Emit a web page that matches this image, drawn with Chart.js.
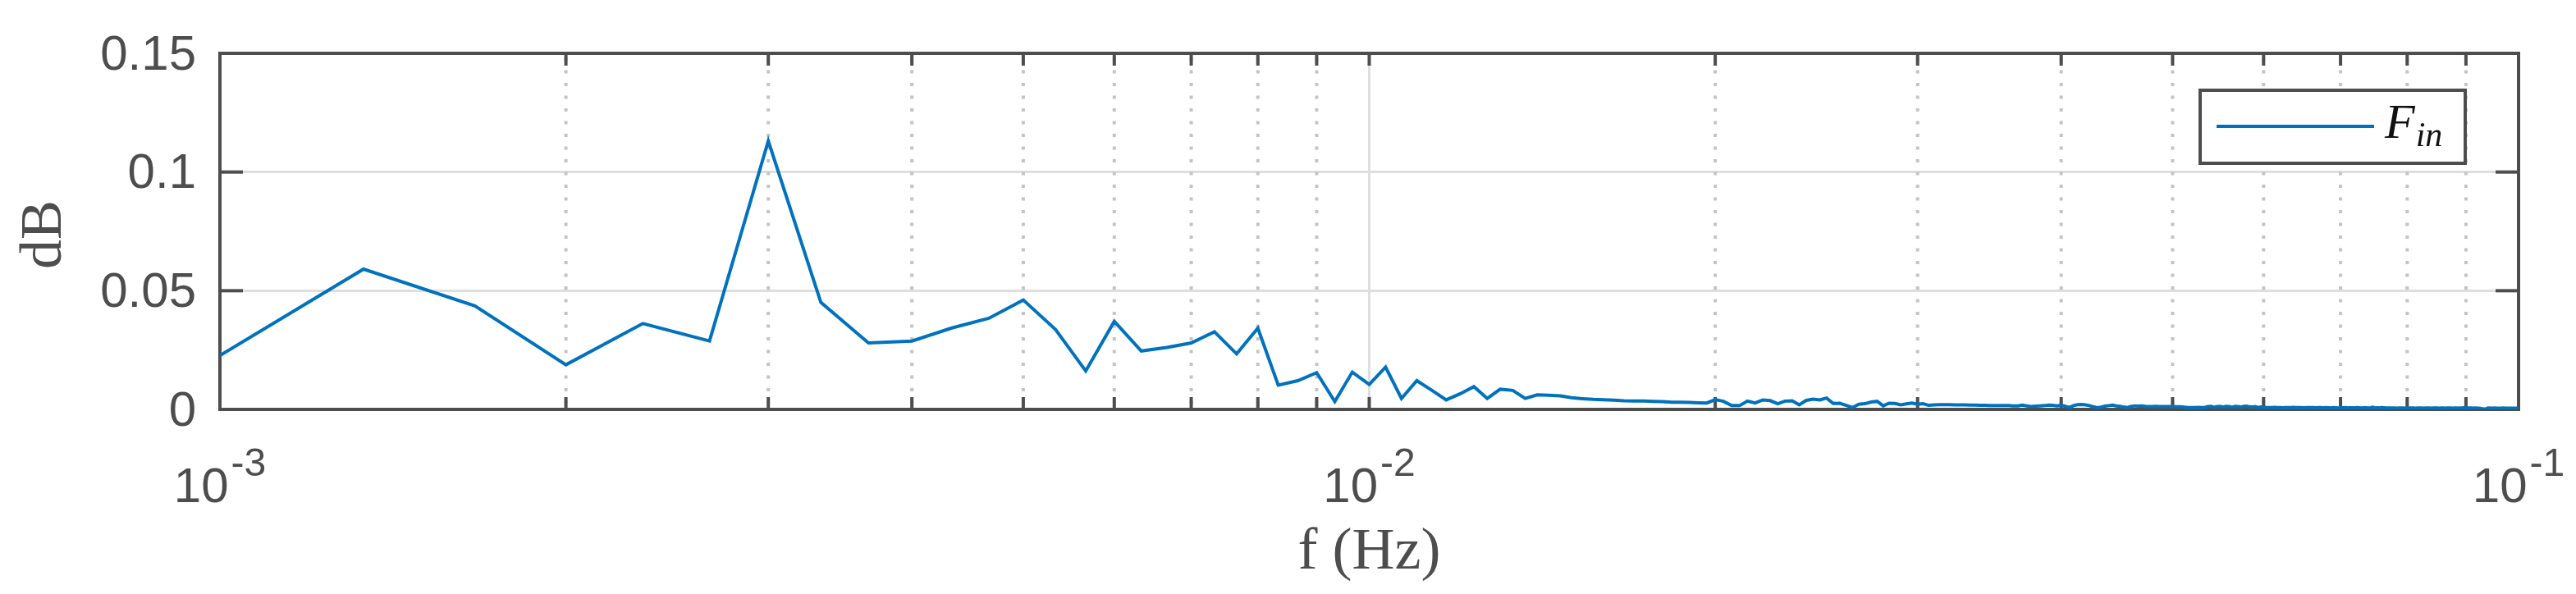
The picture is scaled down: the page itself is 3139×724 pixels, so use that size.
<!DOCTYPE html>
<html>
<head>
<meta charset="utf-8">
<script src="https://cdn.jsdelivr.net/npm/chart.js@4/dist/chart.umd.min.js"></script>
<style>
  html, body { margin: 0; padding: 0; background: #fff; }
  #wrap { width: 3139px; height: 724px; }
</style>
</head>
<body>
<div id="wrap"><canvas id="chart" width="3139" height="724"></canvas></div>
<script>
// --- Data ---
// spectrum bins: bin n sits at n * F_STEP Hz, first bin is FIRST_BIN
const F_STEP = 1 / 3000;
const FIRST_BIN = 3;
const magnitude = [
  0.0227, 0.0591, 0.0436, 0.0188, 0.0362, 0.0288, 0.1131, 0.0451, 0.0280, 0.0288,
  0.0343, 0.0384, 0.0461, 0.0337, 0.0162, 0.0371, 0.0246, 0.0261, 0.0280, 0.0327,
  0.0234, 0.0342, 0.0102, 0.0121, 0.0155, 0.0033, 0.0157, 0.0105, 0.0178, 0.0046,
  0.0121, 0.0081, 0.0040, 0.0066, 0.0096, 0.0046, 0.0085, 0.0080, 0.0046, 0.0061,
  0.0060, 0.0057, 0.0049, 0.0045, 0.0042, 0.0041, 0.0039, 0.0036, 0.0035, 0.0035,
  0.0034, 0.0033, 0.0030, 0.0030, 0.0029, 0.0028, 0.0027, 0.0041, 0.0034, 0.0016,
  0.0016, 0.0035, 0.0027, 0.0040, 0.0037, 0.0024, 0.0035, 0.0036, 0.0019, 0.0038,
  0.0043, 0.0040, 0.0048, 0.0025, 0.0026, 0.0017, 0.0008, 0.0022, 0.0024, 0.0031,
  0.0034, 0.0015, 0.0026, 0.0025, 0.0019, 0.0023, 0.0027, 0.0022, 0.0024, 0.0017,
  0.0019, 0.0020, 0.0020, 0.0020, 0.0019, 0.0019, 0.0019, 0.0018, 0.0018, 0.0017,
  0.0017, 0.0016, 0.0016, 0.0016, 0.0016, 0.0016, 0.0015, 0.0015, 0.0018, 0.0015,
  0.0012, 0.0014, 0.0015, 0.0016, 0.0018, 0.0017, 0.0015, 0.0017, 0.0013, 0.0008,
  0.0016, 0.0020, 0.0021, 0.0019, 0.0016, 0.0011, 0.0007, 0.0010, 0.0014, 0.0016,
  0.0018, 0.0015, 0.0013, 0.0010, 0.0008, 0.0012, 0.0015, 0.0014, 0.0015, 0.0013,
  0.0012, 0.0012, 0.0013, 0.0012, 0.0012, 0.0012, 0.0012, 0.0012, 0.0011, 0.0011,
  0.0010, 0.0009, 0.0008, 0.0008, 0.0008, 0.0009, 0.0008, 0.0008, 0.0012, 0.0013,
  0.0009, 0.0012, 0.0013, 0.0010, 0.0013, 0.0012, 0.0009, 0.0013, 0.0012, 0.0010,
  0.0013, 0.0014, 0.0011, 0.0010, 0.0012, 0.0008, 0.0010, 0.0009, 0.0008, 0.0008,
  0.0008, 0.0009, 0.0008, 0.0008, 0.0007, 0.0008, 0.0008, 0.0008, 0.0009, 0.0008,
  0.0008, 0.0008, 0.0007, 0.0008, 0.0008, 0.0008, 0.0008, 0.0007, 0.0008, 0.0008,
  0.0007, 0.0008, 0.0007, 0.0006, 0.0008, 0.0007, 0.0006, 0.0007, 0.0007, 0.0008,
  0.0006, 0.0007, 0.0007, 0.0006, 0.0008, 0.0007, 0.0006, 0.0007, 0.0007, 0.0006,
  0.0007, 0.0009, 0.0006, 0.0007, 0.0006, 0.0008, 0.0007, 0.0006, 0.0006, 0.0006,
  0.0006, 0.0006, 0.0005, 0.0006, 0.0006, 0.0006, 0.0005, 0.0006, 0.0006, 0.0006,
  0.0006, 0.0005, 0.0006, 0.0006, 0.0006, 0.0005, 0.0006, 0.0006, 0.0006, 0.0005,
  0.0006, 0.0006, 0.0006, 0.0005, 0.0006, 0.0006, 0.0005, 0.0006, 0.0006, 0.0006,
  0.0005, 0.0006, 0.0006, 0.0005, 0.0006, 0.0006, 0.0007, 0.0005, 0.0006, 0.0006,
  0.0006, 0.0005, 0.0006, 0.0005, 0.0005, 0.0004, 0.0003, 0.0002, 0.0003, 0.0005,
  0.0006, 0.0005, 0.0005, 0.0006, 0.0005, 0.0005, 0.0005, 0.0005, 0.0006, 0.0005,
  0.0005, 0.0005, 0.0005, 0.0005, 0.0005, 0.0005, 0.0005, 0.0005
];
const yTicks = [0, 0.05, 0.1, 0.15];
const yTickLabels = ['0', '0.05', '0.1', '0.15'];
const xDecades = [0.001, 0.01, 0.1];
const xDecadeExp = ['-3', '-2', '-1'];
const xMinor = [2, 3, 4, 5, 6, 7, 8, 9];
const legendMain = 'F';
const legendSub = 'in';
const xTitle = 'f (Hz)';
const yTitle = 'dB';

// --- Look ---
const AXIS_COLOR = '#4d4d4d';
const LINE_COLOR = '#0072bd';
const GRID_COLOR = '#dedede';
const MINOR_GRID_COLOR = '#c4c4c4';
const PLOT = { left: 268, top: 44, right: 3069, bottom: 499 };
const SANS = '"Liberation Sans", Arial, sans-serif';
const SERIF = '"Liberation Serif", "Times New Roman", serif';

const points = magnitude.map((v, i) => ({ x: (FIRST_BIN + i) * F_STEP, y: v }));

function seg(ctx, x1, y1, x2, y2) {
  ctx.beginPath(); ctx.moveTo(x1, y1); ctx.lineTo(x2, y2); ctx.stroke();
}

// --- Box, grid and ticks in MATLAB style ---
const frame = {
  id: 'frame',
  beforeDatasetsDraw(chart) {
    const { ctx, chartArea: a, scales: { x, y } } = chart;
    ctx.save();
    // vertical grid: solid at decades, dotted at minors
    xDecades.forEach((d, k) => {
      const px = x.getPixelForValue(d);
      ctx.setLineDash([]); ctx.lineWidth = 3; ctx.strokeStyle = GRID_COLOR;
      seg(ctx, px, a.top, px, a.bottom);
      if (k === xDecades.length - 1) return;
      xMinor.forEach(m => {
        const mx = x.getPixelForValue(d * m);
        ctx.setLineDash([4, 11.5]); ctx.lineDashOffset = -5;
        ctx.lineWidth = 4; ctx.strokeStyle = MINOR_GRID_COLOR;
        seg(ctx, mx, a.top, mx, a.bottom);
      });
    });
    ctx.setLineDash([]);
    ctx.strokeStyle = AXIS_COLOR;
    ctx.lineWidth = 4;
    // ticks inside the box
    yTicks.forEach(v => {
      const py = y.getPixelForValue(v);
      seg(ctx, a.left, py, a.left + 28, py);
      seg(ctx, a.right - 28, py, a.right, py);
    });
    const xt = [];
    xDecades.forEach((d, k) => {
      xt.push(d);
      if (k < xDecades.length - 1) xMinor.forEach(m => xt.push(d * m));
    });
    xt.forEach(v => {
      const px = x.getPixelForValue(v);
      seg(ctx, px, a.bottom, px, a.bottom - 15);
      seg(ctx, px, a.top, px, a.top + 15);
    });
    ctx.strokeRect(a.left, a.top, a.right - a.left, a.bottom - a.top);
    ctx.restore();
  },
  afterDraw(chart) {
    const { ctx, chartArea: a, scales: { x } } = chart;
    ctx.save();
    // x tick labels 10^k
    ctx.fillStyle = AXIS_COLOR;
    ctx.textBaseline = 'alphabetic';
    ctx.textAlign = 'left';
    xDecades.forEach((d, k) => {
      const px = x.getPixelForValue(d);
      ctx.font = '60px ' + SANS;
      const wBase = ctx.measureText('10').width;
      ctx.font = '48px ' + SANS;
      const wExp = ctx.measureText(xDecadeExp[k]).width;
      const left = px - (wBase + 3 + wExp) / 2;
      ctx.font = '60px ' + SANS;
      ctx.fillText('10', left, 612);
      ctx.font = '48px ' + SANS;
      ctx.fillText(xDecadeExp[k], left + wBase + 3, 580);
    });
    // axis titles
    ctx.font = '72px ' + SERIF;
    ctx.textAlign = 'center';
    ctx.fillText(xTitle, (a.left + a.right) / 2, 693);
    ctx.save();
    ctx.translate(74, (a.top + a.bottom) / 2 + 4);
    ctx.rotate(-Math.PI / 2);
    ctx.fillText(yTitle, 0, 0);
    ctx.restore();
    // legend
    const box = { x: 2681, y: 110, w: 323, h: 89 };
    ctx.fillStyle = '#fff';
    ctx.fillRect(box.x, box.y, box.w, box.h);
    ctx.strokeStyle = AXIS_COLOR;
    ctx.lineWidth = 4;
    ctx.strokeRect(box.x, box.y, box.w, box.h);
    ctx.strokeStyle = LINE_COLOR;
    seg(ctx, 2701, 154, 2893, 154);
    ctx.fillStyle = '#111';
    ctx.textAlign = 'left';
    ctx.font = 'italic 60px ' + SERIF;
    ctx.fillText(legendMain, 2906, 168);
    const wF = ctx.measureText(legendMain).width;
    ctx.font = 'italic 42px ' + SERIF;
    ctx.fillText(legendSub, 2906 + wF + 1, 178);
    ctx.restore();
  }
};

new Chart(document.getElementById('chart'), {
  type: 'line',
  data: {
    datasets: [{
      label: legendMain + legendSub,
      data: points,
      borderColor: LINE_COLOR,
      borderWidth: 4,
      pointRadius: 0,
      tension: 0,
      fill: false
    }]
  },
  options: {
    responsive: false,
    animation: false,
    devicePixelRatio: 1,
    layout: { padding: { left: 0, top: PLOT.top, right: 3139 - PLOT.right, bottom: 0 } },
    plugins: { legend: { display: false }, tooltip: { enabled: false } },
    scales: {
      x: {
        type: 'logarithmic',
        min: xDecades[0],
        max: xDecades[xDecades.length - 1],
        grid: { display: false },
        border: { display: false },
        ticks: { display: false },
        afterFit: s => { s.height = 724 - PLOT.bottom; }
      },
      y: {
        min: yTicks[0],
        max: yTicks[yTicks.length - 1],
        afterBuildTicks: s => { s.ticks = yTicks.map(v => ({ value: v })); },
        grid: { color: GRID_COLOR, lineWidth: 3, drawTicks: false },
        border: { display: false },
        ticks: {
          padding: 29,
          labelOffset: 3,
          color: AXIS_COLOR,
          font: { family: SANS, size: 60 },
          callback: v => yTickLabels[yTicks.indexOf(v)]
        },
        afterFit: s => { s.width = PLOT.left; }
      }
    }
  },
  plugins: [frame]
});
</script>
</body>
</html>
